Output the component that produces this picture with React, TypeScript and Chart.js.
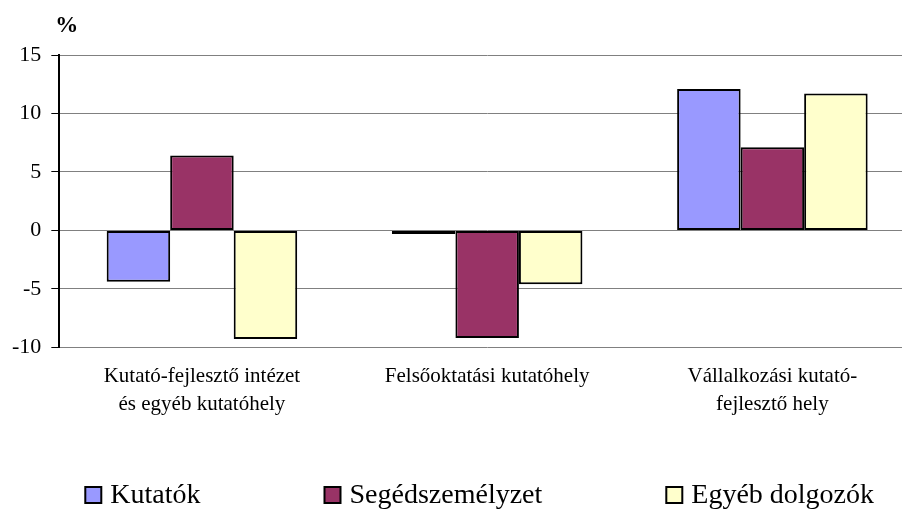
import React, { useEffect, useRef } from "react";
import { Chart, registerables } from "chart.js";

Chart.register(...registerables);

const categories: (string | string[])[] = [
  ["Kutató-fejlesztő intézet", "és egyéb kutatóhely"],
  "Felsőoktatási kutatóhely",
  ["Vállalkozási kutató-", "fejlesztő hely"],
];
const seriesNames = ["Kutatók", "Segédszemélyzet", "Egyéb dolgozók"];
const kutatok = [-4.4, -0.3, 12.1];
const segedszemelyzet = [6.4, -9.2, 7.1];
const egyebDolgozok = [-9.3, -4.6, 11.7];
const yMin = -10;
const yMax = 15;
const yStep = 5;
const unitLabel = "%";

const colors = ["#9999FF", "#993366", "#FFFFCC"];
const FONT = '"Liberation Serif", "Times New Roman", serif';
const CANVAS_W = 915;
const CANVAS_H = 511;

const customLegend = {
  id: "customLegend",
  afterDraw(chart: any) {
    const ctx = chart.ctx as CanvasRenderingContext2D;
    ctx.save();
    ctx.font = `28px ${FONT}`;
    const items = chart.data.datasets.map((ds: any) => ({
      text: ds.label as string,
      color: ds.backgroundColor as string,
    }));
    const box = 18;
    const gapText = 8;
    const gapItem = 123;
    const widths = items.map(
      (it: any) => box + gapText + ctx.measureText(it.text).width
    );
    const total =
      widths.reduce((a: number, b: number) => a + b, 0) +
      gapItem * (items.length - 1);
    const center = (chart.chartArea.left + chart.chartArea.right) / 2 - 8;
    let x = center - total / 2;
    const baseline = chart.height - 8;
    items.forEach((it: any, i: number) => {
      ctx.fillStyle = it.color;
      ctx.fillRect(x + 1, baseline - 16, box - 2, box - 2);
      ctx.strokeStyle = "#000";
      ctx.lineWidth = 2;
      ctx.strokeRect(x + 1, baseline - 16, box - 2, box - 2);
      ctx.fillStyle = "#000";
      ctx.textAlign = "left";
      ctx.textBaseline = "alphabetic";
      ctx.fillText(it.text, x + box + gapText, baseline);
      x += widths[i] + gapItem;
    });
    ctx.restore();
  },
};

const unitPlugin = {
  id: "unitLabel",
  afterDraw(chart: any) {
    const ctx = chart.ctx as CanvasRenderingContext2D;
    ctx.save();
    ctx.font = `bold 23px ${FONT}`;
    ctx.fillStyle = "#000";
    ctx.textAlign = "left";
    ctx.textBaseline = "alphabetic";
    ctx.fillText(unitLabel, chart.chartArea.left - 4, 32);
    ctx.restore();
  },
};

export default function App() {
  const canvasRef = useRef<HTMLCanvasElement | null>(null);

  useEffect(() => {
    document.body.style.margin = "0";
    const canvas = canvasRef.current;
    if (!canvas) return;
    const series = [kutatok, segedszemelyzet, egyebDolgozok];
    const chart = new Chart(canvas, {
      type: "bar",
      data: {
        labels: categories,
        datasets: series.map((d, i) => ({
          label: seriesNames[i],
          data: d,
          backgroundColor: colors[i],
          borderColor: "#000",
          borderWidth: 2,
          borderSkipped: false,
          categoryPercentage: 0.668,
          barPercentage: 1,
        })),
      },
      options: {
        responsive: false,
        animation: false,
        devicePixelRatio: 1,
        layout: { padding: { top: 55, left: 2, right: 0, bottom: 77 } },
        plugins: {
          legend: { display: false },
          tooltip: { enabled: false },
          title: { display: false },
        },
        scales: {
          x: {
            grid: { display: false, drawTicks: false },
            border: { display: false },
            ticks: {
              color: "#000",
              padding: 15,
              maxRotation: 0,
              autoSkip: false,
              font: { family: FONT, size: 21, lineHeight: 1.35 },
            },
          },
          y: {
            min: yMin,
            max: yMax,
            grid: {
              color: "#808080",
              lineWidth: 1,
              tickColor: "#000",
              tickLength: 8,
              drawTicks: true,
            },
            border: { display: true, color: "#000", width: 2 },
            ticks: {
              stepSize: yStep,
              color: "#000",
              padding: 10,
              font: { family: FONT, size: 22 },
            },
          },
        },
      },
      plugins: [customLegend, unitPlugin],
    });
    return () => chart.destroy();
  }, []);

  return (
    <div style={{ width: 902, height: CANVAS_H, overflow: "hidden" }}>
      <canvas
        ref={canvasRef}
        width={CANVAS_W}
        height={CANVAS_H}
        style={{ display: "block", width: CANVAS_W, height: CANVAS_H }}
      />
    </div>
  );
}
